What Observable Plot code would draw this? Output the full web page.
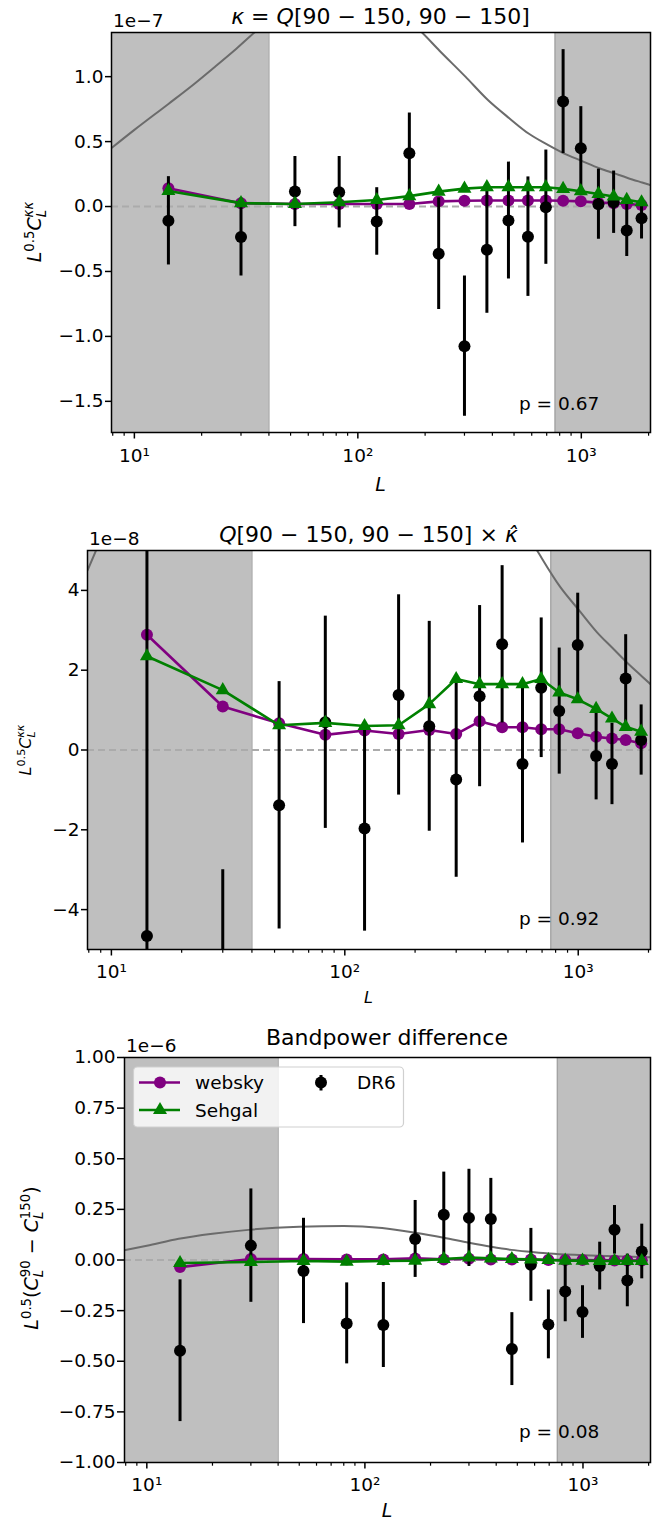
<!DOCTYPE html>
<html><head><meta charset="utf-8">
<script src="https://cdn.jsdelivr.net/npm/d3@7"></script>
<script src="https://cdn.jsdelivr.net/npm/@observablehq/plot@0.6"></script>
<style>
body{margin:0;background:#fff;}
#chart svg{display:block;}
</style></head><body>
<div id="chart"></div>
<script>
// ---- data ----
const bandL = [14.2, 30, 52.3, 82.5, 121.5, 170, 230, 300, 378, 472, 577, 694, 829, 995, 1193, 1395, 1597, 1860];

// panel 1: kappa = Q[90-150, 90-150]  (units of 1e-7)
const kkDR6    = [-0.11, -0.235, 0.115, 0.11, -0.115, 0.41, -0.363, -1.075, -0.332, -0.108, -0.232, -0.005, 0.808, 0.449, 0.018, 0.033, -0.185, -0.09];
const kkErr    = [0.34, 0.30, 0.27, 0.275, 0.26, 0.31, 0.43, 0.54, 0.49, 0.45, 0.46, 0.44, 0.40, 0.32, 0.27, 0.24, 0.20, 0.16];
const kkWebsky = [0.14, 0.026, 0.02, 0.02, 0.02, 0.02, 0.04, 0.045, 0.046, 0.046, 0.046, 0.046, 0.045, 0.04, 0.03, 0.026, 0.02, 0.012];
const kkSehgal = [0.12, 0.026, 0.02, 0.033, 0.05, 0.08, 0.115, 0.138, 0.149, 0.149, 0.149, 0.149, 0.136, 0.118, 0.097, 0.077, 0.051, 0.033];

// panel 2: Q[90-150, 90-150] x kappa-hat  (units of 1e-8)
const xDR6    = [-4.66, -8.0, -1.386, 0.695, -1.97, 1.38, 0.594, -0.74, 1.35, 2.65, -0.35, 1.56, 0.975, 2.63, -0.15, -0.35, 1.79, 0.25];
const xErr    = [10.5, 5.0, 3.1, 2.66, 2.57, 2.51, 2.63, 2.45, 2.27, 1.97, 1.98, 1.75, 1.58, 1.3, 1.1, 1.02, 1.1, 0.88];
const xWebsky = [2.89, 1.09, 0.67, 0.38, 0.49, 0.40, 0.50, 0.40, 0.72, 0.57, 0.57, 0.52, 0.52, 0.42, 0.33, 0.29, 0.25, 0.17];
const xSehgal = [2.35, 1.5, 0.62, 0.68, 0.6, 0.62, 1.15, 1.78, 1.65, 1.65, 1.65, 1.78, 1.44, 1.27, 1.03, 0.79, 0.58, 0.46];

// panel 3: bandpower difference  (units of 1e-6)
const diffDR6    = [-0.448, 0.071, -0.054, -0.313, -0.321, 0.104, 0.224, 0.208, 0.203, -0.44, -0.024, -0.318, -0.155, -0.257, -0.03, 0.149, -0.101, 0.042];
const diffErr    = [0.35, 0.28, 0.26, 0.2, 0.21, 0.19, 0.21, 0.24, 0.2, 0.18, 0.18, 0.17, 0.15, 0.13, 0.118, 0.12, 0.13, 0.135];
const diffWebsky = [-0.035, 0.005, 0.005, 0.003, 0.003, 0.008, 0.003, 0.006, 0.003, 0.003, 0.002, 0.0, 0.0, 0.0, -0.002, -0.002, -0.003, -0.003];
const diffSehgal = [-0.015, -0.01, -0.005, -0.008, -0.005, -0.003, 0.005, 0.012, 0.008, 0.005, 0.003, 0.0, -0.003, -0.003, -0.005, -0.005, -0.005, -0.005];

// grey reference curves
const theoryL  = [7.9, 10, 14.2, 18.4, 22.9, 28.6, 35.6, 50, 70, 100, 140, 191, 232, 303, 382, 476, 583, 699, 834, 1009, 1204, 1406, 1612, 1871, 2040];
const theoryKK = [4.5, 5.9, 7.9, 9.4, 10.75, 12.15, 13.6, 15.3, 16.3, 16.4, 15.4, 13.5, 12.0, 10.0, 8.2, 6.8, 5.6, 4.8, 4.1, 3.5, 2.95, 2.55, 2.2, 1.85, 1.65]; // 1e-8
const diffCurveL = [7.9, 10, 14, 20, 30, 50, 80, 120, 170, 230, 300, 380, 470, 580, 700, 1000, 1400, 2040];
const diffCurve  = [0.048, 0.07, 0.105, 0.13, 0.15, 0.164, 0.168, 0.158, 0.135, 0.11, 0.085, 0.065, 0.05, 0.04, 0.032, 0.024, 0.018, 0.013]; // 1e-6

const xTicks = [10, 100, 1000];
const xTickLabels = ["10\u00b9", "10\u00b2", "10\u00b3"];
const minorTicks = [8, 9, 20, 30, 40, 50, 60, 70, 80, 90, 200, 300, 400, 500, 600, 700, 800, 900, 2000];
const xDomain = [7.9, 2040];
const lMin = 40, lMax = 763;
const pValues = ["p = 0.67", "p = 0.92", "p = 0.08"];

// ---- helpers ----
const FONT = "'DejaVu Sans', sans-serif";
const minus = s => s.replace("-", "\u2212");

function rich(g, x, y, parts, size, opts = {}) {
  const t = g.append("text")
    .attr("x", x).attr("y", y)
    .attr("font-family", FONT).attr("font-size", size)
    .attr("fill", "#000")
    .attr("text-anchor", opts.anchor || "middle");
  if (opts.rotate) t.attr("transform", `rotate(-90 ${x} ${y})`);
  for (const p of parts) {
    const ts = t.append("tspan").text(p.t);
    if (p.it) ts.attr("font-style", "italic");
    if (p.s) ts.attr("font-size", p.s);
    if (p.dy) ts.attr("dy", p.dy);
    if (p.dx) ts.attr("dx", p.dx);
  }
  return t;
}

function panel(cfg) {
  const rows = bandL.map((L, i) => ({L, dr6: cfg.dr6[i], err: cfg.err[i], websky: cfg.websky[i], sehgal: cfg.sehgal[i]}));
  const curve = cfg.curveL.map((L, i) => ({L, v: cfg.curve[i]}));
  const svg = Plot.plot({
    width: 671, height: cfg.height,
    marginTop: cfg.mt, marginBottom: cfg.mb, marginLeft: cfg.ml, marginRight: 21,
    style: {fontFamily: FONT, fontSize: "18.5px", color: "#000", background: "#fff"},
    x: {type: "log", domain: xDomain, axis: null},
    y: {domain: cfg.yDomain, axis: null},
    marks: [
      Plot.rect([{a: xDomain[0], b: lMin}, {a: lMax, b: xDomain[1]}], {x1: "a", x2: "b", fill: "#bfbfbf"}),
      Plot.ruleX([lMin, lMax], {stroke: "#a3a3a3", strokeWidth: 1.3}),
      Plot.line(curve, {x: "L", y: "v", stroke: "#6b6b6b", strokeWidth: 2, curve: "monotone-x", clip: true}),
      Plot.ruleY([0], {stroke: "#ababab", strokeWidth: 2, strokeDasharray: "7,4"}),
      Plot.line(rows, {x: "L", y: "websky", stroke: "#800080", strokeWidth: 2.6, clip: true}),
      Plot.dot(rows, {x: "L", y: "websky", r: 6, fill: "#800080", clip: true}),
      Plot.ruleX(rows, {x: "L", y1: d => d.dr6 - d.err, y2: d => d.dr6 + d.err, stroke: "#000", strokeWidth: 3, clip: true}),
      Plot.dot(rows, {x: "L", y: "dr6", r: 6, fill: "#000", clip: true}),
      Plot.line(rows, {x: "L", y: "sehgal", stroke: "#008000", strokeWidth: 2.6, clip: true}),
      Plot.dot(rows, {x: "L", y: "sehgal", r: 5.2, symbol: "triangle", fill: "#008000", clip: true}),
      Plot.frame({stroke: "#000", strokeWidth: 1.5}),
      Plot.axisY({ticks: cfg.yTicks, tickFormat: cfg.yFormat, tickSize: cfg.tickY || 6, tickPadding: 2, label: null, strokeWidth: 1.5}),
      Plot.axisX({ticks: xTicks, tickFormat: d => xTickLabels[xTicks.indexOf(d)], tickSize: 6.5, tickPadding: cfg.padX, label: null, strokeWidth: 1.5}),
      Plot.axisX({ticks: minorTicks, tickFormat: () => "", tickSize: 3.7, tickPadding: 0, label: null, strokeWidth: 1.2})
    ]
  });
  const g = d3.select(svg).append("g");
  const cx = (cfg.ml + 650) / 2;
  rich(g, cx, cfg.titleY, cfg.title, 22);
  rich(g, cfg.ml + 2, cfg.mt - 5, [{t: cfg.offset}], 18.5, {anchor: "start"});
  rich(g, cx, cfg.xLabelY, [{t: "L", it: true}], cfg.labelSize);
  rich(g, cfg.yLabelX, cfg.yLabelY, cfg.yLabel, cfg.labelSize, {rotate: true});
  rich(g, 519, cfg.height - cfg.mb - cfg.pOff, [{t: cfg.p}], 18.5, {anchor: "start"});
  if (cfg.legend) drawLegend(g);
  return svg;
}

function drawLegend(g) {
  g.append("rect").attr("x", 133.5).attr("y", 47).attr("width", 270).attr("height", 60)
    .attr("rx", 4).attr("fill", "#fff").attr("fill-opacity", 0.8).attr("stroke", "#d0d0d0").attr("stroke-width", 1.2);
  const rowsL = [{label: "websky", color: "#800080", sym: "circle", y: 62.5}, {label: "Sehgal", color: "#008000", sym: "triangle", y: 90}];
  for (const r of rowsL) {
    g.append("line").attr("x1", 139).attr("x2", 180).attr("y1", r.y).attr("y2", r.y).attr("stroke", r.color).attr("stroke-width", 2.6);
    if (r.sym === "circle") g.append("circle").attr("cx", 160).attr("cy", r.y).attr("r", 6).attr("fill", r.color);
    else g.append("path").attr("d", d3.symbol(d3.symbolTriangle, Math.PI * 5.2 * 5.2)()).attr("transform", `translate(160,${r.y})`).attr("fill", r.color);
    rich(g, 195, r.y + 6.5, [{t: r.label}], 18.5, {anchor: "start"});
  }
  g.append("line").attr("x1", 321).attr("x2", 321).attr("y1", 55).attr("y2", 70.5).attr("stroke", "#000").attr("stroke-width", 3);
  g.append("circle").attr("cx", 321).attr("cy", 62.5).attr("r", 6).attr("fill", "#000");
  rich(g, 357, 69, [{t: "DR6"}], 18.5, {anchor: "start"});
}

const ylabKK = s => [
  {t: "L", it: true}, {t: "0.5", s: s * 0.7, dy: -s * 0.38}, {t: "C", it: true, dy: s * 0.38},
  {t: "L", it: true, s: s * 0.7, dy: s * 0.27}, {t: "\u03ba\u03ba", it: true, s: s * 0.7, dx: -s * 0.4, dy: -s * 0.7}
];

const chart = document.getElementById("chart");
chart.append(panel({
  height: 500, mt: 32, mb: 68, ml: 111, yDomain: [-1.74, 1.34],
  yTicks: [-1.5, -1, -0.5, 0, 0.5, 1], yFormat: d => minus(d.toFixed(1)), padX: 10,
  dr6: kkDR6, err: kkErr, websky: kkWebsky, sehgal: kkSehgal,
  curveL: theoryL, curve: theoryKK.map(v => v / 10),
  title: [{t: "\u03ba", it: true}, {t: " = "}, {t: "Q", it: true}, {t: "[90 \u2212 150, 90 \u2212 150]"}], titleY: 24,
  offset: "1e\u22127", xLabelY: 491, labelSize: 19, yLabelX: 41, yLabelY: 232, yLabel: ylabKK(19),
  p: pValues[0], pOff: 22
}));
chart.append(panel({
  height: 520, mt: 50, mb: 71, ml: 87, yDomain: [-5, 5],
  yTicks: [-4, -2, 0, 2, 4], yFormat: d => minus(String(d)), padX: 8.5,
  dr6: xDR6, err: xErr, websky: xWebsky, sehgal: xSehgal,
  curveL: theoryL, curve: theoryKK,
  title: [{t: "Q", it: true}, {t: "[90 \u2212 150, 90 \u2212 150] \u00d7 "}, {t: "\u03ba\u0302", it: true}], titleY: 42,
  offset: "1e\u22128", xLabelY: 503, labelSize: 16, yLabelX: 31, yLabelY: 250, yLabel: ylabKK(16),
  p: pValues[1], pOff: 24
}));
chart.append(panel({
  height: 502, mt: 37, mb: 60, ml: 124, yDomain: [-1, 1], tickY: 7,
  yTicks: [-1, -0.75, -0.5, -0.25, 0, 0.25, 0.5, 0.75, 1], yFormat: d => minus(d.toFixed(2)), padX: 8.5,
  dr6: diffDR6, err: diffErr, websky: diffWebsky, sehgal: diffSehgal,
  curveL: diffCurveL, curve: diffCurve,
  title: [{t: "Bandpower difference"}], titleY: 25,
  offset: "1e\u22126", xLabelY: 497, labelSize: 19, yLabelX: 38, yLabelY: 238,
  yLabel: [
    {t: "L", it: true}, {t: "0.5", s: 13.3, dy: -7}, {t: "(", dy: 7}, {t: "C", it: true},
    {t: "L", it: true, s: 13.3, dy: 5}, {t: "90", s: 13.3, dx: -7.5, dy: -13}, {t: " \u2212 ", dy: 8},
    {t: "C", it: true}, {t: "L", it: true, s: 13.3, dy: 5}, {t: "150", s: 13.3, dx: -7.5, dy: -13}, {t: ")", dy: 8}
  ],
  p: pValues[2], pOff: 24, legend: true
}));
</script>
</body></html>
